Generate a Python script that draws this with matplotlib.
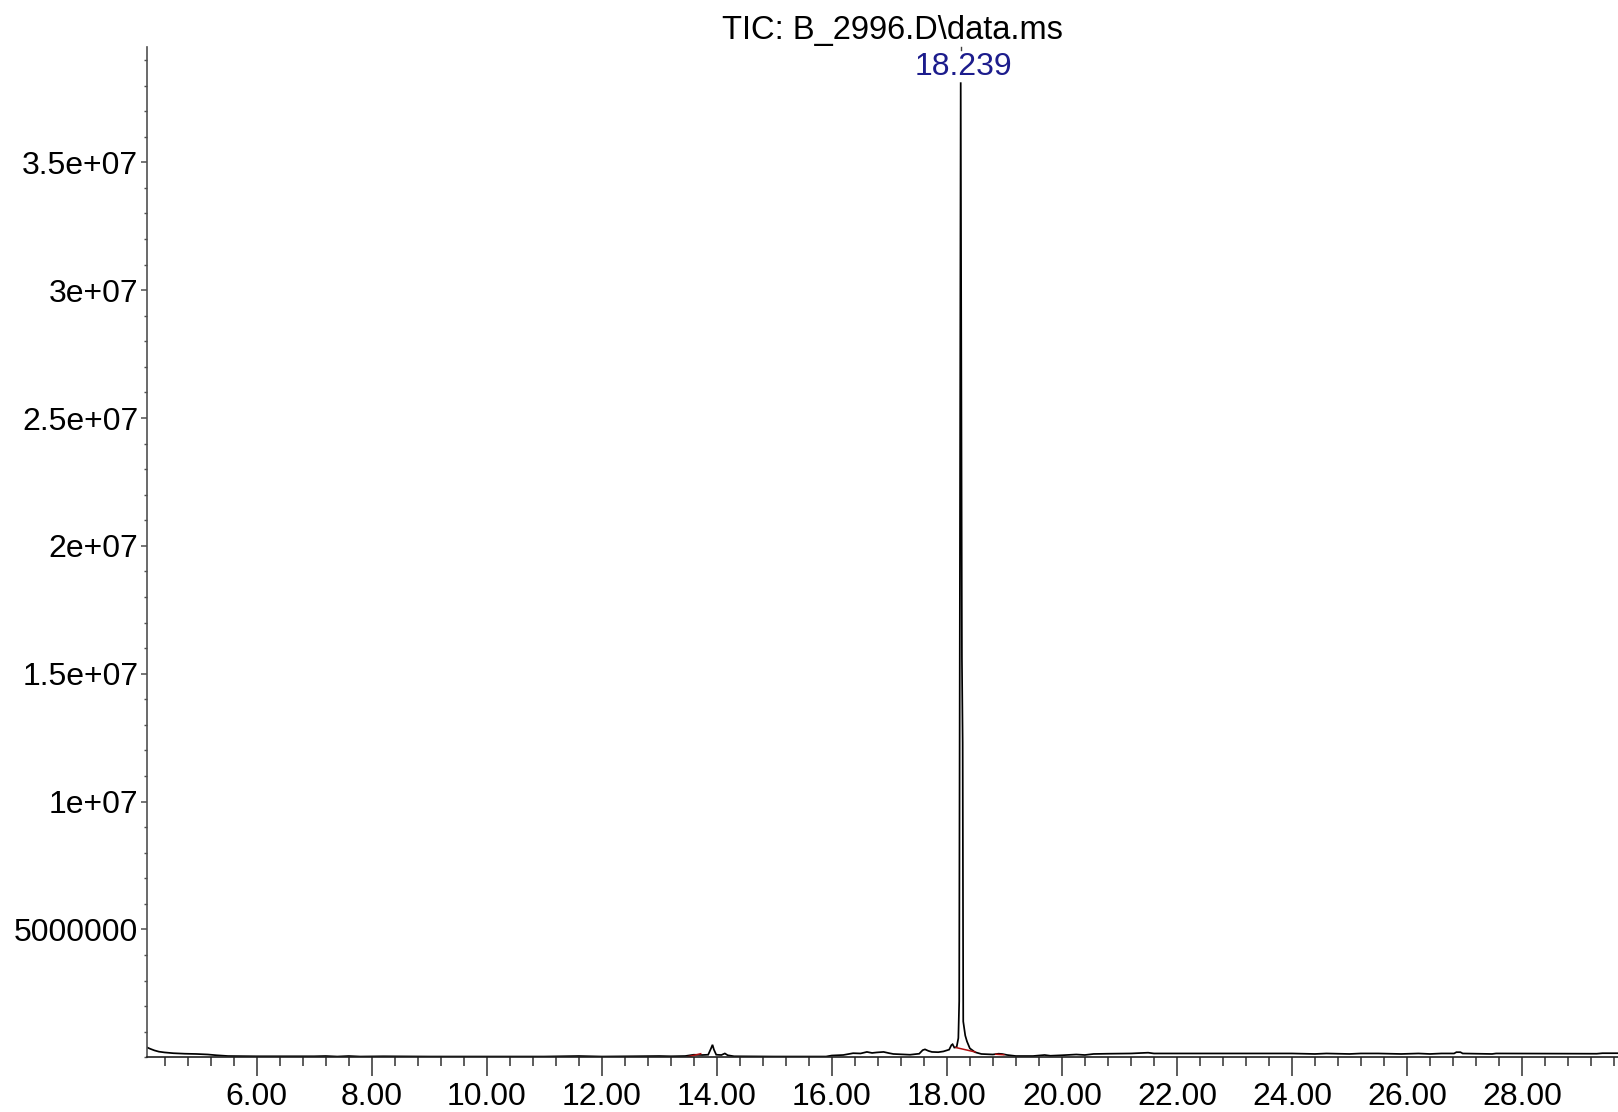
import matplotlib
matplotlib.use("Agg")
import matplotlib.pyplot as plt
from matplotlib.ticker import MultipleLocator, FixedLocator, FixedFormatter

# ---------------- data ----------------
TITLE = "TIC: B_2996.D\\data.ms"
PEAK_LABEL = "18.239"
PEAK_RT = 18.239

times = [4.09, 4.15, 4.22, 4.30, 4.40, 4.55, 4.75, 4.95, 5.15, 5.30, 5.50, 6.0, 6.5, 7.0,
         7.2, 7.4, 7.6, 7.8, 8.2, 9.0, 10.0, 11.0, 11.6, 12.0, 12.5, 13.0, 13.2, 13.45,
         13.6, 13.75, 13.85, 13.90, 13.925, 13.95, 13.99, 14.08, 14.14, 14.19, 14.3, 15.0,
         15.9, 16.0, 16.2, 16.37, 16.5, 16.61, 16.7, 16.78, 16.9, 17.0, 17.07, 17.36, 17.52,
         17.58, 17.62, 17.68, 17.74, 17.85, 17.94, 18.04, 18.08, 18.10, 18.13, 18.17, 18.20,
         18.215, 18.241, 18.262, 18.275, 18.285, 18.32, 18.35, 18.40, 18.49, 18.6, 18.8,
         18.9, 18.96, 19.05, 19.2, 19.5, 19.7, 19.8, 20.0, 20.25, 20.4, 20.55, 20.8, 21.2,
         21.5, 21.6, 22.0, 23.0, 24.0, 24.4, 24.6, 25.0, 25.2, 25.5, 25.9, 26.2, 26.4, 26.6,
         26.82, 26.86, 26.93, 26.97, 27.48, 27.55, 29.3, 29.4, 29.7]

abundance_m = [0.39, 0.33, 0.27, 0.22, 0.19, 0.16, 0.14, 0.13, 0.11, 0.08, 0.05, 0.04, 0.04, 0.04,
               0.05, 0.03, 0.05, 0.03, 0.04, 0.03, 0.03, 0.03, 0.05, 0.03, 0.04, 0.05, 0.04, 0.05,
               0.10, 0.09, 0.10, 0.35, 0.49, 0.30, 0.10, 0.09, 0.15, 0.08, 0.04, 0.03,
               0.03, 0.07, 0.09, 0.16, 0.15, 0.21, 0.17, 0.19, 0.21, 0.16, 0.13, 0.10, 0.14,
               0.28, 0.31, 0.25, 0.21, 0.20, 0.23, 0.30, 0.48, 0.51, 0.38, 0.40, 0.75,
               2.2, 38.13, 15.6, 12.3, 1.4, 0.85, 0.62, 0.35, 0.20, 0.13, 0.11,
               0.14, 0.13, 0.09, 0.05, 0.05, 0.09, 0.06, 0.08, 0.11, 0.09, 0.13, 0.14, 0.15,
               0.18, 0.15, 0.15, 0.15, 0.15, 0.13, 0.15, 0.13, 0.15, 0.15, 0.13, 0.15, 0.13, 0.15,
               0.15, 0.20, 0.20, 0.15, 0.13, 0.15, 0.14, 0.16, 0.16]
abundance = [v * 1e6 for v in abundance_m]

# integration baselines (red), start/end time and abundance (millions)
base_t = [(13.49, 13.72), (18.16, 18.49), (18.85, 18.99)]
base_v = [(0.02, 0.14), (0.38, 0.21), (0.12, 0.10)]

x_major_labels = ["6.00", "8.00", "10.00", "12.00", "14.00", "16.00", "18.00",
                  "20.00", "22.00", "24.00", "26.00", "28.00"]
x_major_ticks = [6, 8, 10, 12, 14, 16, 18, 20, 22, 24, 26, 28]
y_ticks = [5e6, 1e7, 1.5e7, 2e7, 2.5e7, 3e7, 3.5e7]
y_tick_labels = ["5000000", "1e+07", "1.5e+07", "2e+07", "2.5e+07", "3e+07", "3.5e+07"]

# ---------------- drawing ----------------
plt.rcParams['font.family'] = ['Liberation Sans', 'DejaVu Sans']

W, H = 1618, 1112
fig = plt.figure(figsize=(W / 100, H / 100), dpi=100)
left, bottom, top = 146.7 / W, 1 - 1057.3 / H, 1 - 46.5 / H
ax = fig.add_axes([left, bottom, 1 - left, top - bottom])

ax.plot(times, abundance, color='black', lw=1.25, solid_joinstyle='miter')
for (t0, t1), (v0, v1) in zip(base_t, base_v):
    ax.plot([t0, t1], [v0 * 1e6, v1 * 1e6], color='#b01010', lw=1.1)

ax.set_xlim(4.087, 29.67)
ax.set_ylim(0, 39.53e6)

for s in ('top', 'right'):
    ax.spines[s].set_visible(False)
ax.spines['left'].set_color('#505050')
ax.spines['left'].set_linewidth(1.2)
ax.spines['bottom'].set_color('#202020')
ax.spines['bottom'].set_linewidth(1.2)

ax.xaxis.set_major_locator(FixedLocator(x_major_ticks))
ax.xaxis.set_major_formatter(FixedFormatter(x_major_labels))
ax.xaxis.set_minor_locator(MultipleLocator(0.4))
ax.yaxis.set_major_locator(FixedLocator(y_ticks))
ax.yaxis.set_major_formatter(FixedFormatter(y_tick_labels))
ax.yaxis.set_minor_locator(MultipleLocator(1e6))

ax.tick_params(axis='x', which='major', length=13.7, width=1.1, color='#303030',
               pad=4, labelsize=23, direction='out')
ax.tick_params(axis='x', which='minor', length=6.5, width=1.1, color='#303030', direction='out')
ax.tick_params(axis='y', which='major', length=4, width=1.1, color='#505050',
               pad=2, labelsize=23, direction='out')
ax.tick_params(axis='y', which='minor', length=2.5, width=1.0, color='#505050', direction='out')

# peak label and small marker at top
ax.annotate(PEAK_LABEL, xy=(PEAK_RT, max(abundance)), xytext=(3, 15),
            textcoords='offset pixels', ha='center', va='center',
            fontsize=23, color='#1c1c8c')
ax.plot([PEAK_RT, PEAK_RT], [39.40e6, 39.53e6], color='#404040', lw=1.0, clip_on=False)

fig.text(892 / W, 1 - 31 / H, TITLE, ha='center', va='center', fontsize=23.5, color='black')

fig.savefig("out.png", dpi=100)
